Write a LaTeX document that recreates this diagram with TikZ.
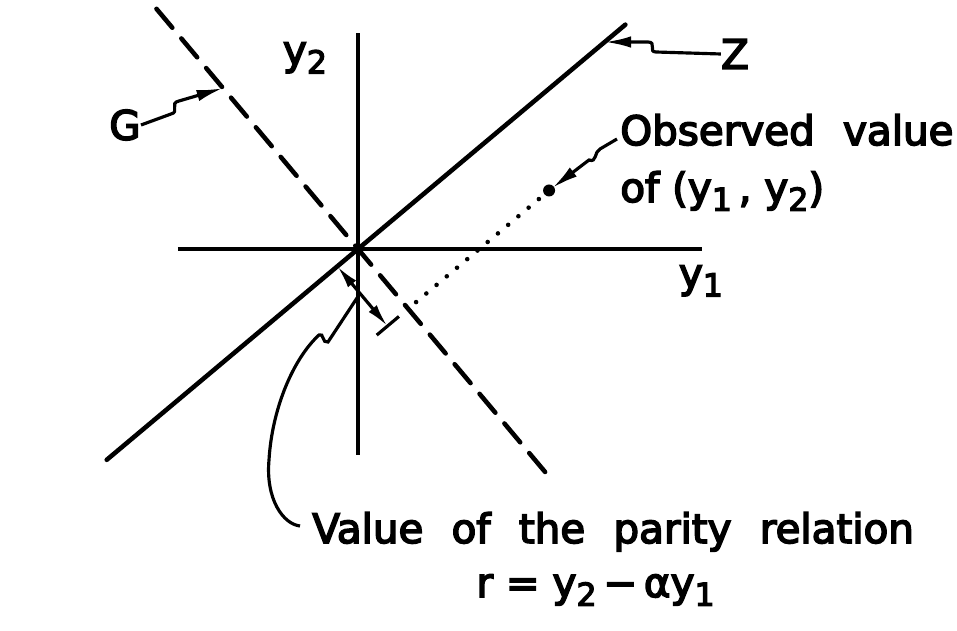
\documentclass[tikz,border=0pt]{standalone}
\usepackage{fontspec}
\setmainfont{DejaVu Sans}
\newfontfamily\letterfont{DejaVu Sans}[FakeBold=4]
\usetikzlibrary{arrows.meta, calc}
\newcommand{\lowidx}[1]{\raisebox{-5pt}{\fontsize{18}{18}\selectfont #1}}
\newcommand{\lblfont}{\letterfont\fontsize{23}{27}\selectfont}
\newcommand{\widesp}{\spaceskip=0.7em\relax}

\begin{document}
\begin{tikzpicture}[
    axisline/.style={line width=1.9pt},
    mainline/.style={line width=2.6pt, line cap=round},
    leader/.style={line width=1.8pt, -{Latex[length=15pt,width=6.5pt]}},
    lbl/.style={font=\lblfont, inner sep=0pt},
  ]
  \useasboundingbox (-7.16,-7.64) rectangle (11.98,4.98);

  % axes and the two lines
  \coordinate (O) at (0,0);
  \coordinate (xlft) at (-3.6,0);
  \coordinate (xrgt) at (6.88,0);
  \coordinate (ybot) at (0,-4.12);
  \coordinate (ytop) at (0,4.32);
  \coordinate (zlo) at (220:6.56);
  \coordinate (zhi) at (40:6.98);
  \coordinate (ghi) at (130:6.27);
  \coordinate (glo) at (-50:6.08);

  \draw[axisline] (xlft) -- (xrgt);
  \draw[axisline] (ybot) -- (ytop);
  \draw[mainline] (zlo) -- (zhi);
  \draw[mainline, dash pattern=on 14pt off 8pt] (ghi) -- (glo);

  % observed point and the residual
  \coordinate (obs) at ($(40:3.68)+(-50:1.56)$);
  \coordinate (gfoot) at (-50:1.56);
  \coordinate (rs) at (220:0.54);
  \coordinate (re) at ($(rs)+(-50:1.56)$);
  \coordinate (ta) at ($(re)+(220:0.28)$);
  \coordinate (tb) at ($(re)+(40:0.3)$);

  \draw[line width=2.6pt, line cap=round, dash pattern=on 0pt off 7.6pt] (obs) -- (gfoot);
  \fill (obs) circle (0.12);
  \draw[line width=1.8pt, {Latex[length=13pt,width=6pt]}-{Latex[length=13pt,width=6pt]}] (rs) -- (re);
  \draw[line width=1.8pt] (ta) -- (tb);

  % labels
  \node[lbl] (ylab2) at (-1.06,3.82) {y\lowidx{2}};
  \node[lbl] (ylab1) at (6.86,-0.64) {y\lowidx{1}};
  \node[lbl] (glab) at (-4.66,2.48) {G};
  \node[lbl] (zlab) at (7.54,3.9) {Z};
  \node[lbl, anchor=base west] (obstxt) at (5.24,2.08) {\widesp Observed value};
  \node[lbl, anchor=base west] (obsof) at (5.24,0.94) {of (y\lowidx{1}\,, y\lowidx{2})};
  \node[lbl, anchor=base west] (valtxt) at (-0.92,-5.88) {\widesp Value of the parity relation};
  \node[lbl, anchor=base east] (reltxt) at (7.14,-6.96) {r = y\lowidx{2}\,−\,αy\lowidx{1}};

  % leaders
  \coordinate (gtip) at (130:4.2);
  \coordinate (ztip) at (40:6.44);
  \coordinate (vtip) at (0,-0.95);
  \draw[leader] (glab.east) -- (-3.74,2.70) .. controls (-3.56,2.74) and (-3.78,2.92) .. (-3.58,2.96) -- (gtip);
  \draw[leader] (zlab.west) -- (5.96,3.94) .. controls (5.80,3.94) and (5.98,4.14) .. (5.80,4.14) -- (ztip);
  \draw[leader, shorten >=0.08cm] ($(obstxt.base west)+(-0.06,0.12)$) -- (4.84,2.00)
    .. controls (4.72,1.94) and (4.78,1.72) .. (4.62,1.78) -- (obs);
  \draw[line width=1.8pt] ($(valtxt.base west)+(-0.24,0.34)$)
    .. controls (-1.5,-5.5) and (-1.85,-5.0) .. (-1.78,-4.22)
    .. controls (-1.72,-3.2) and (-1.3,-2.2) .. (-0.78,-1.72)
    .. controls (-0.68,-1.66) and (-0.72,-1.9) .. (-0.6,-1.86)
    -- (vtip);
\end{tikzpicture}
\end{document}
